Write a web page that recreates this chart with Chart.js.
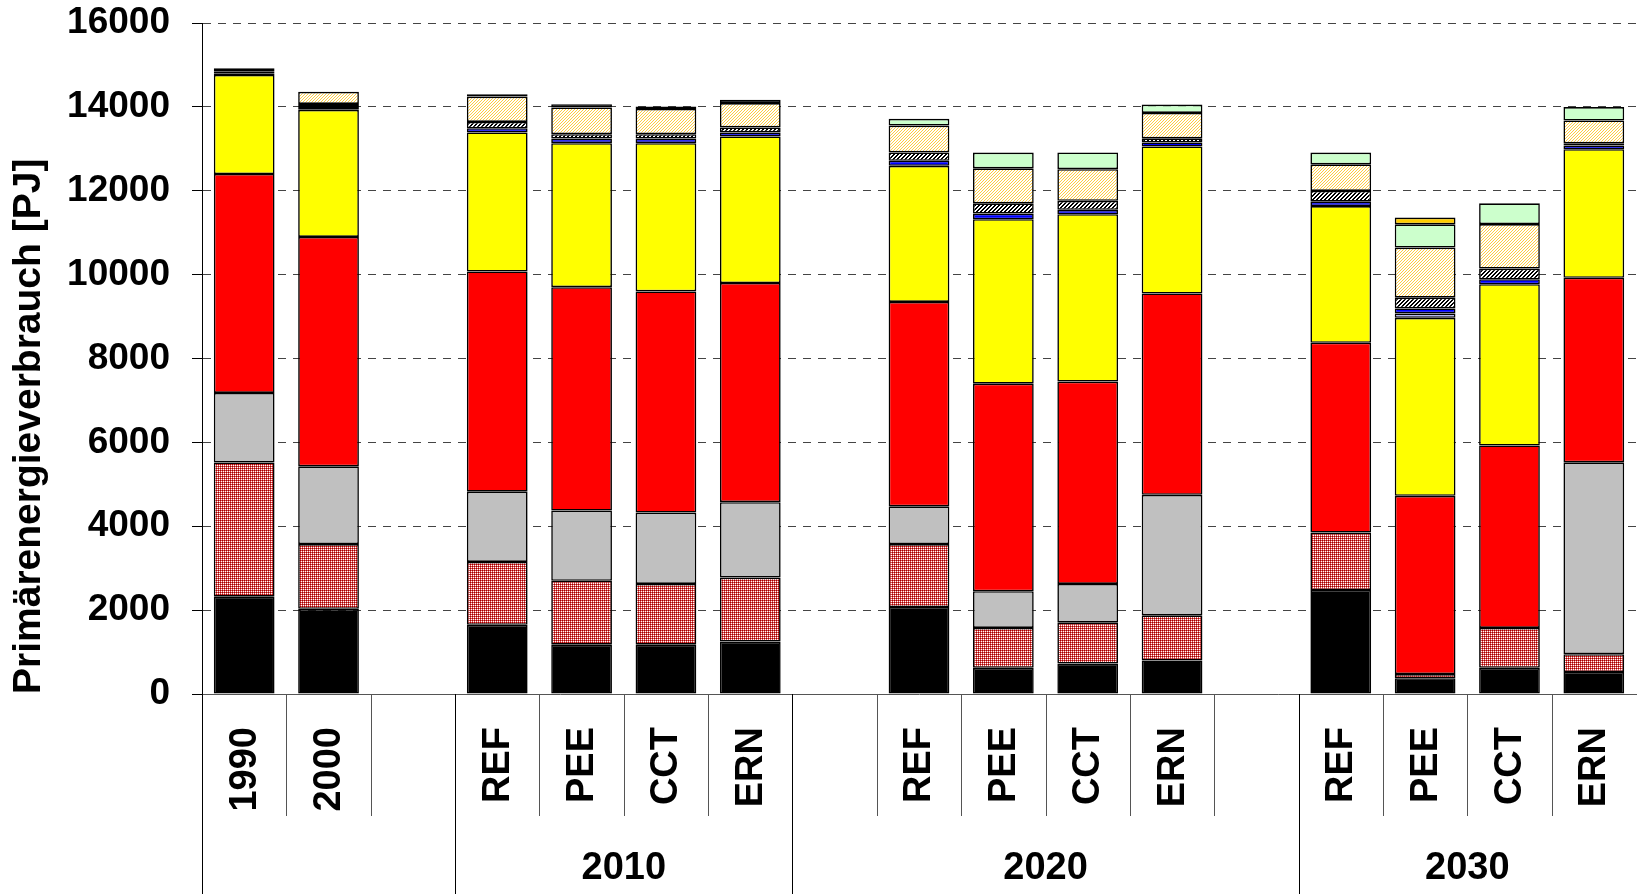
<!DOCTYPE html>
<html lang="de">
<head>
    <meta charset="UTF-8">
    <title>Primärenergieverbrauch</title>
    <script src="https://cdn.jsdelivr.net/npm/chart.js"></script>
    <style>
        body {
            margin: 0;
            background: #fff;
        }
        canvas {
            display: block;
        }
    </style>
</head>
<body>
    <canvas id="pevChart" width="1641" height="894"></canvas>

    <script type="text/javascript">
        // Kategorien (leere Einträge = Lücken zwischen den Gruppen)
        const categories = ['1990', '2000', '', 'REF', 'PEE', 'CCT', 'ERN', '', 'REF', 'PEE', 'CCT', 'ERN', '', 'REF', 'PEE', 'CCT', 'ERN'];
        const groupLabels = ['', '2010', '2020', '2030'];
        const groupStarts = [0, 3, 7, 13];
        const yTicks = [0, 2000, 4000, 6000, 8000, 10000, 12000, 14000, 16000];

        // Werte in PJ, von unten nach oben gestapelt
        const schwarz = [2320, 2030, null, 1650, 1175, 1175, 1250, null, 2075, 625, 725, 800, null, 2480, 375, 625, 525];
        const rotGepunktet = [3200, 1545, null, 1500, 1525, 1450, 1525, null, 1500, 950, 975, 1075, null, 1370, 100, 950, 425];
        const grau = [1660, 1855, null, 1675, 1675, 1700, 1800, null, 900, 875, 925, 2875, null, null, null, null, 4575];
        const rot = [5220, 5470, null, 5250, 5325, 5275, 5225, null, 4875, 4950, 4825, 4800, null, 4525, 4250, 4350, 4400];
        const gelb = [2360, 3030, null, 3315, 3435, 3535, 3495, null, 3245, 3920, 3990, 3505, null, 3260, 4245, 3845, 3065];
        const lila = [null, null, null, null, null, null, null, null, null, null, null, null, null, null, 105, null, null];
        const blau = [40, 70, null, 100, 110, 110, 95, null, 120, 135, 105, 95, null, 105, 120, 120, 90];
        const grauSchraffiert = [40, 70, null, 150, 105, 105, 120, null, 200, 245, 215, 100, null, 255, 255, 255, 50];
        const orangeSchraffiert = [80, 290, null, 605, 635, 600, 580, null, 640, 835, 755, 605, null, 635, 1195, 1060, 545];
        const hellgruen = [null, null, null, null, null, null, null, null, 160, 375, 400, 200, null, 280, 555, 495, 320];
        const orange = [null, null, null, null, null, null, null, null, null, null, null, null, null, null, 160, null, null];
        const schwarzOben = [null, null, null, 55, 80, 60, 80, null, null, null, null, null, null, null, null, null, null];

        // kleine Füllmuster
        function makePattern(size, draw) {
            const c = document.createElement('canvas');
            c.width = size;
            c.height = size;
            const g = c.getContext('2d');
            g.fillStyle = '#fff';
            g.fillRect(0, 0, size, size);
            draw(g);
            return document.getElementById('pevChart').getContext('2d').createPattern(c, 'repeat');
        }
        const dotPattern = makePattern(2, g => {
            g.fillStyle = '#a00000';
            g.fillRect(0, 0, 1, 1);
            g.fillStyle = '#d85050';
            g.fillRect(1, 0, 1, 1);
            g.fillRect(0, 1, 1, 1);
        });
        const grayHatch = makePattern(4, g => {
            g.fillStyle = '#000';
            for (let i = 0; i < 4; i++) {
                g.fillRect(i, 3 - i, 1, 1);
                g.fillRect((i + 1) % 4, 3 - i, 1, 1);
            }
        });
        const orangeHatch = makePattern(3, g => {
            g.fillStyle = '#ffcc40';
            for (let i = 0; i < 3; i++) {
                g.fillRect(i, 2 - i, 1, 1);
            }
        });

        const FONT = "'Liberation Sans', Arial, sans-serif";

        function ds(data, color) {
            return {
                data: data,
                backgroundColor: color,
                borderColor: '#000',
                borderWidth: 1.6,
                borderSkipped: false,
                barPercentage: 0.72,
                categoryPercentage: 1.0
            };
        }

        // Beschriftung der x-Achse (gedreht) und Gruppenlinien
        const axisLabels = {
            id: 'axisLabels',
            afterDraw(chart) {
                const ctx = chart.ctx;
                const area = chart.chartArea;
                const xs = chart.scales.x;
                const n = categories.length;
                const slot = area.width / n;
                const bx = i => Math.round(area.left + i * slot) + 0.5;

                ctx.save();
                ctx.lineWidth = 1;
                for (let i = 0; i < n; i++) {
                    const long = groupStarts.includes(i);
                    ctx.strokeStyle = long ? '#000' : '#555';
                    ctx.beginPath();
                    ctx.moveTo(bx(i), area.bottom);
                    ctx.lineTo(bx(i), long ? 894 : 816);
                    ctx.stroke();
                }

                ctx.fillStyle = '#000';
                ctx.font = 'bold 38px ' + FONT;
                categories.forEach((lab, i) => {
                    if (!lab) return;
                    ctx.save();
                    ctx.translate(xs.getPixelForValue(i) + 1, 727);
                    ctx.rotate(-Math.PI / 2);
                    ctx.textAlign = 'right';
                    ctx.textBaseline = 'middle';
                    ctx.fillText(lab, 0, 0);
                    ctx.restore();
                });

                ctx.textAlign = 'center';
                ctx.textBaseline = 'middle';
                groupLabels.forEach((lab, g) => {
                    if (!lab) return;
                    const end = g + 1 < groupStarts.length ? groupStarts[g + 1] : n;
                    const cx = area.left + (groupStarts[g] + end) / 2 * slot;
                    ctx.fillText(lab, cx, 869);
                });
                ctx.restore();
            }
        };

        const ctx = document.getElementById('pevChart').getContext('2d');
        new Chart(ctx, {
            type: 'bar',
            data: {
                labels: categories,
                datasets: [
                    ds(schwarz, '#000000'),
                    ds(rotGepunktet, dotPattern),
                    ds(grau, '#c0c0c0'),
                    ds(rot, '#ff0000'),
                    ds(gelb, '#ffff00'),
                    ds(lila, '#b8b8f0'),
                    ds(blau, '#0000ff'),
                    ds(grauSchraffiert, grayHatch),
                    ds(orangeSchraffiert, orangeHatch),
                    ds(hellgruen, '#ccffcc'),
                    ds(orange, '#ffcc00'),
                    ds(schwarzOben, '#000000')
                ]
            },
            options: {
                responsive: false,
                animation: false,
                devicePixelRatio: 1,
                layout: { padding: { top: 0, right: 5, bottom: 0, left: 0 } },
                plugins: {
                    legend: { display: false },
                    tooltip: { enabled: false }
                },
                scales: {
                    x: {
                        stacked: true,
                        grid: { display: false },
                        ticks: { display: false },
                        border: { color: '#555', width: 1 },
                        afterFit(scale) { scale.height = 200; }
                    },
                    y: {
                        stacked: true,
                        min: 0,
                        max: 16000,
                        afterBuildTicks(scale) {
                            scale.ticks = yTicks.map(v => ({ value: v }));
                        },
                        afterFit(scale) {
                            scale.width = 202;
                            scale.paddingTop = 23;
                            scale.paddingBottom = 0;
                        },
                        ticks: {
                            color: '#000',
                            padding: 22,
                            font: { family: FONT, size: 37, weight: 'bold' },
                            callback: v => String(v)
                        },
                        grid: {
                            color: '#444',
                            tickColor: '#000',
                            tickLength: 10,
                            tickBorderDash: []
                        },
                        border: { color: '#000', width: 1, dash: [8, 7] },
                        title: {
                            display: true,
                            text: 'Primärenergieverbrauch [PJ]',
                            color: '#000',
                            align: 'start',
                            padding: { top: 6, bottom: 0 },
                            font: { family: FONT, size: 39, weight: 'bold' }
                        }
                    }
                }
            },
            plugins: [axisLabels]
        });
    </script>
</body>
</html>
